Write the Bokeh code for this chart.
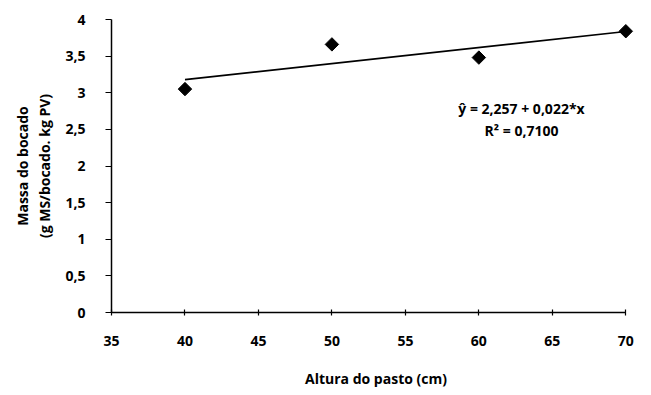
import numpy as np
from bokeh.plotting import figure
from bokeh.models import Range1d, CustomJSTickFormatter, FixedTicker, Label
from bokeh.embed import file_html
from bokeh.resources import INLINE

altura = [40, 50, 60, 70]
massa = [3.05, 3.66, 3.48, 3.84]
x_ticks = [35, 40, 45, 50, 55, 60, 65, 70]
y_ticks = [0, 0.5, 1, 1.5, 2, 2.5, 3, 3.5, 4]
eq_text = "ŷ = 2,257 + 0,022*x"
r2_text = "R² = 0,7100"

FONT = "Open Sans"

p = figure(width=651, height=395, output_backend="svg", toolbar_location=None,
           x_range=Range1d(35, 71), y_range=Range1d(0, 4),
           min_border_left=111, min_border_right=11, min_border_top=19, min_border_bottom=83)
p.outline_line_color = None
p.xgrid.visible = False
p.ygrid.visible = False
p.background_fill_color = "white"

slope, intercept = np.polyfit(altura, massa, 1)
xs = np.array([altura[0], altura[-1]])
p.line(xs, intercept + slope * xs, line_color="black", line_width=1.6)
p.scatter(altura, massa, marker="square", angle=np.pi / 4, size=9.5, color="black")

fmt = CustomJSTickFormatter(code="return tick.toString().replace('.', ',');")
for ax in (p.xaxis[0], p.yaxis[0]):
    ax.axis_line_color = "black"
    ax.axis_line_width = 1.5
    ax.major_tick_line_color = "black"
    ax.major_tick_line_width = 1.2
    ax.minor_tick_line_color = None
    ax.major_label_text_font = FONT
    ax.major_label_text_font_style = "bold"
    ax.major_label_text_font_size = "14px"
    ax.major_label_text_color = "black"
    ax.axis_label_text_font = FONT
    ax.axis_label_text_font_style = "bold"
    ax.axis_label_text_font_size = "14px"
    ax.axis_label_text_color = "black"
    ax.formatter = fmt

p.xaxis.bounds = (35, 70)
p.xaxis.ticker = FixedTicker(ticks=x_ticks)
p.yaxis.ticker = FixedTicker(ticks=y_ticks)
p.xaxis.major_tick_in = 3
p.xaxis.major_tick_out = 3
p.yaxis.major_tick_in = 0
p.yaxis.major_tick_out = 6
p.xaxis.major_label_standoff = 20
p.yaxis.major_label_standoff = 20
p.xaxis.axis_label = "Altura do pasto (cm)"
p.xaxis.axis_label_standoff = 20
p.yaxis.axis_label = "Massa do bocado\n(g MS/bocado. kg PV)"
p.yaxis.axis_label_standoff = 8

p.add_layout(Label(x=62.9, y=2.785, text=eq_text, text_align="center", text_baseline="middle",
                   text_font=FONT, text_font_style="bold", text_font_size="14px", text_color="black"))
p.add_layout(Label(x=62.9, y=2.485, text=r2_text, text_align="center", text_baseline="middle",
                   text_font=FONT, text_font_style="bold", text_font_size="14px", text_color="black"))

open("out.html", "w").write(file_html(p, INLINE))
